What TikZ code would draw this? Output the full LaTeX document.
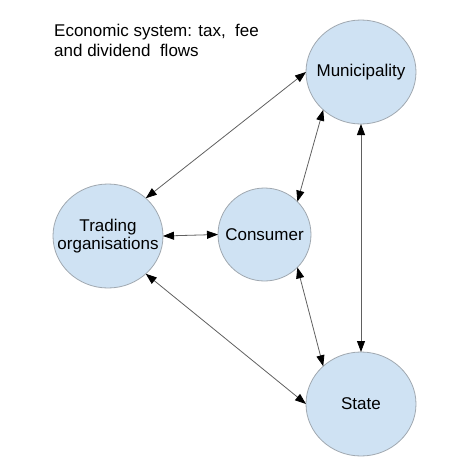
\documentclass[tikz,border=0pt]{standalone}
\usepackage{fontspec}
\setmainfont{Liberation Sans}
\usetikzlibrary{shapes.geometric,arrows.meta}
\definecolor{nodefill}{HTML}{CFE2F3}
\definecolor{nodeline}{HTML}{A0A8B0}
\definecolor{linkline}{HTML}{606060}
\begin{document}
\begin{tikzpicture}[x=1pt,y=-1pt,
  entity/.style={ellipse,draw=nodeline,fill=nodefill,line width=0.8pt,
    inner xsep=-30pt,inner ysep=-20pt,outer sep=0pt,
    minimum width=110pt,minimum height=104pt,align=center,
    font=\fontsize{17}{18.5}\selectfont},
  small/.style={minimum width=93pt,minimum height=93pt},
  flow/.style={draw=linkline,line width=0.8pt,
    {Triangle[length=11pt,width=8pt,black]}-{Triangle[length=11pt,width=8pt,black]}},
  titletext/.style={anchor=base west,inner sep=0pt,font=\fontsize{17}{19.5}\selectfont}]
\useasboundingbox (0,0) rectangle (474,475);
\node[titletext] (title1) at (54,36.5) {Economic system: tax,\ \ fee};
\node[titletext] (title2) at (54,56) {and dividend\ \ flows};
\node[entity] (muni) at (361,72) {Municipality};
\node[entity] (trade) at (108,236) {Trading\\organisations};
\node[entity,small] (cons) at (264.5,234.5) {Consumer};
\node[entity] (state) at (361,404) {State};
\draw[flow] (trade.45) -- (muni.west);
\draw[flow] (muni.225) -- (cons.45);
\draw[flow] (muni.south) -- (state.north);
\draw[flow] (trade.east) -- (cons.west);
\draw[flow] (trade.-45) -- (state.west);
\draw[flow] (cons.-45) -- (state.135);
\end{tikzpicture}
\end{document}
